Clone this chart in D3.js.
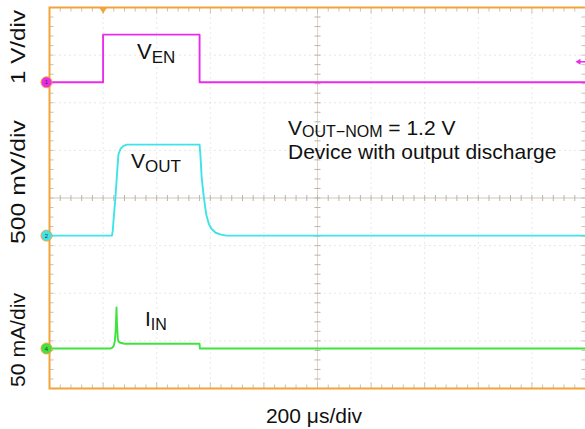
<!DOCTYPE html>
<html><head><meta charset="utf-8">
<script src="https://cdn.jsdelivr.net/npm/d3@7"></script>
<style>
html,body{margin:0;padding:0;background:#fff;}
svg{display:block;font-family:"Liberation Sans",Arial,Helvetica,sans-serif;}
</style></head>
<body>
<svg id="c" width="585" height="429"></svg>
<script>
// ---- data (time in µs, trigger at 0) ----
const timeDomain = [-200, 1800];          // 10 div x 200 µs/div
const divsY = [-4, 4];                    // 8 vertical divisions
const channelNames = ["1", "2", "4"];
const scaleLabels = ["1 V/div", "500 mV/div", "50 mA/div"];
const timeLabel = "200 μs/div";

// V_EN (V), 1 V/div
const venT = [-200, 0, 0, 360, 360, 1800];
const venV = [0, 0, 1.0, 1.0, 0, 0];

// V_OUT (V), 500 mV/div
const voutT = [-200, 33, 36, 40, 46, 52, 57, 65, 75, 88, 360, 363, 368, 376, 385, 395, 405, 420, 440, 460, 1800];
const voutV = [0, 0, 0.05, 0.2, 0.40, 0.65, 0.85, 0.91, 0.94, 0.955, 0.955, 0.85, 0.6, 0.40, 0.22, 0.12, 0.07, 0.03, 0.01, 0, 0];

// I_IN (mA), 50 mA/div
const iinT = [-200, 28, 35, 40, 44, 47, 50, 52, 55, 58, 65, 80, 360, 361, 1800];
const iinV = [0, 0, 1, 3, 8, 20, 43, 25, 10, 7, 6, 5, 5, 0, 0];

// channel ground offsets (divisions from centre) and units-per-division
const chOffsets = [2.43, -0.79, -3.16];
const chPerDiv = [1, 0.5, 50];
const chColors = ["#ea2cea", "#3fe3ea", "#3fe33f"];

// ---- drawing ----
const svg = d3.select("#c");
const L = 49.5, R = 585.5, T = 7.5, B = 388.5;
const x = d3.scaleLinear().domain(timeDomain).range([L, R]);
const y = d3.scaleLinear().domain(divsY).range([B, T]);
const divT = (timeDomain[1] - timeDomain[0]) / 10;

// grid (dotted)
const grid = svg.append("g");
for (let k = 1; k < 10; k++) {
  if (k === 5) continue;
  grid.append("line").attr("x1", x(timeDomain[0] + k * divT)).attr("x2", x(timeDomain[0] + k * divT))
    .attr("y1", T).attr("y2", B).attr("stroke", "#cfcfcf").attr("stroke-width", 1).attr("stroke-dasharray", "1,4");
}
for (let k = -3; k <= 3; k++) {
  if (k === 0) continue;
  grid.append("line").attr("x1", L).attr("x2", R).attr("y1", y(k)).attr("y2", y(k))
    .attr("stroke", "#cfcfcf").attr("stroke-width", 1).attr("stroke-dasharray", "1,4");
}
// centre cross with minor ticks
const cx = x(timeDomain[0] + 5 * divT), cy = y(0);
grid.append("line").attr("x1", L).attr("x2", R).attr("y1", cy).attr("y2", cy).attr("stroke", "#cfc8ba").attr("stroke-width", 1.2);
grid.append("line").attr("x1", cx).attr("x2", cx).attr("y1", T).attr("y2", B).attr("stroke", "#ddd6ca").attr("stroke-width", 1);
const minorX = d3.range(0, 51).map(i => timeDomain[0] + i * divT / 5);
const minorY = d3.range(0, 41).map(i => divsY[0] + i / 5);
grid.selectAll(".tx").data(minorX).join("line")
  .attr("x1", d => x(d)).attr("x2", d => x(d)).attr("y1", cy - 3).attr("y2", cy + 3)
  .attr("stroke", "#bdb5a6").attr("stroke-width", 1);
grid.selectAll(".ty").data(minorY).join("line")
  .attr("x1", cx - 3).attr("x2", cx + 3).attr("y1", d => y(d)).attr("y2", d => y(d))
  .attr("stroke", "#bdb5a6").attr("stroke-width", 1);
// border ticks
const bt = svg.append("g").attr("stroke", "#c9c1b3").attr("stroke-width", 1);
minorX.forEach(d => {
  const len = (Math.round((d - timeDomain[0]) / divT * 5) % 5 === 0) ? 6 : 4;
  bt.append("line").attr("x1", x(d)).attr("x2", x(d)).attr("y1", T).attr("y2", T + len);
  bt.append("line").attr("x1", x(d)).attr("x2", x(d)).attr("y1", B).attr("y2", B - len);
});
minorY.forEach(d => {
  bt.append("line").attr("x1", L).attr("x2", L + 4).attr("y1", y(d)).attr("y2", y(d));
  bt.append("line").attr("x1", R - 4).attr("x2", R).attr("y1", y(d)).attr("y2", y(d));
});

// frame
svg.append("path").attr("d", `M${R},${T}H${L}V${B}H${R}`).attr("fill", "none")
  .attr("stroke", "#f2a43a").attr("stroke-width", 2);

// traces
const traces = [[venT, venV], [voutT, voutV], [iinT, iinV]];
traces.forEach((tr, i) => {
  const pts = tr[0].map((t, j) => [x(t), y(chOffsets[i] + tr[1][j] / chPerDiv[i])]);
  svg.append("path").attr("d", d3.line()(pts)).attr("fill", "none")
    .attr("stroke", chColors[i]).attr("stroke-width", 1.9).attr("stroke-linejoin", "round");
});

// trigger marker
const tx0 = x(0);
svg.append("path").attr("d", `M${tx0 - 4},${T}L${tx0 + 4},${T}L${tx0},${T + 6}Z`).attr("fill", "#f2a43a");

// channel markers
chOffsets.forEach((o, i) => {
  const g = svg.append("g").attr("transform", `translate(${L - 3},${y(o)})`);
  g.append("circle").attr("r", 5.5).attr("fill", chColors[i]).attr("stroke", "#f2a43a").attr("stroke-width", 1);
  g.append("text").attr("text-anchor", "middle").attr("dy", "0.35em").attr("font-size", 6).attr("fill", "#333").text(channelNames[i]);
});
// trigger-level arrow on right
const ay = y(chOffsets[0] + 0.43);
svg.append("path").attr("d", `M${R - 10},${ay}L${R - 5},${ay - 3}L${R - 5},${ay + 3}Z`).attr("fill", chColors[0]);
svg.append("line").attr("x1", R - 6).attr("x2", R).attr("y1", ay).attr("y2", ay).attr("stroke", chColors[0]).attr("stroke-width", 1.5);

// axis labels
const ylabelPos = [[25, 47, 74], [25, 182, 124], [25, 340, 94]];
scaleLabels.forEach((s, i) => {
  svg.append("text").attr("transform", `translate(${ylabelPos[i][0]},${ylabelPos[i][1]}) rotate(-90)`)
    .attr("text-anchor", "middle").attr("font-size", 21).attr("fill", "#111")
    .attr("textLength", ylabelPos[i][2]).attr("lengthAdjust", "spacingAndGlyphs").text(s);
});
svg.append("text").attr("x", 314).attr("y", 423).attr("text-anchor", "middle").attr("font-size", 21).attr("fill", "#111").text(timeLabel);

// trace labels
function subLabel(px, py, main, sub, fs, sfs, dy) {
  const t = svg.append("text").attr("x", px).attr("y", py).attr("font-size", fs).attr("fill", "#111");
  t.append("tspan").text(main);
  t.append("tspan").attr("font-size", sfs).attr("dy", dy).text(sub);
  return t;
}
subLabel(137, 59, "V", "EN", 22, 17, 4);
subLabel(131, 168, "V", "OUT", 21, 17, 4);
subLabel(145, 326, "I", "IN", 21, 16, 4);
const an = subLabel(288, 135, "V", "OUT−NOM", 21, 16, 2);
an.append("tspan").attr("dy", -2).attr("font-size", 21).text(" = 1.2 V");
svg.append("text").attr("x", 288).attr("y", 159).attr("font-size", 21).attr("fill", "#111").text("Device with output discharge");
</script>
</body></html>
